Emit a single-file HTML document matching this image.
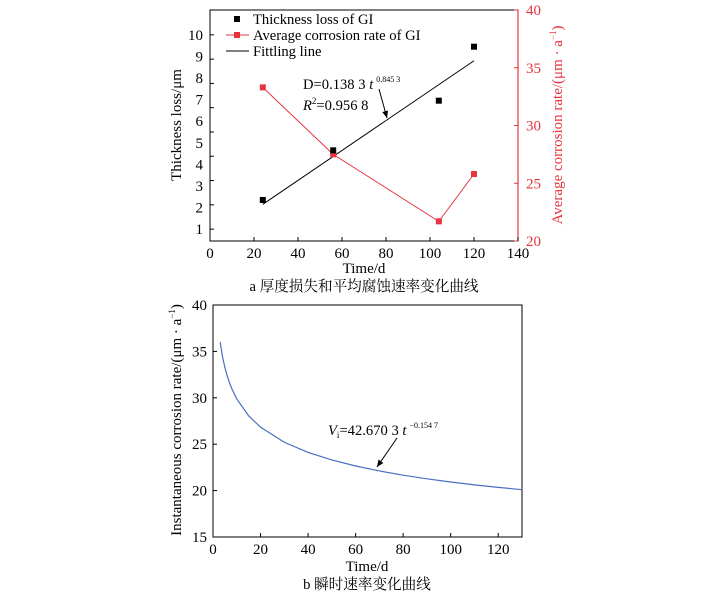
<!DOCTYPE html>
<html><head><meta charset="utf-8"><style>
body{margin:0;background:#fff}
svg text{font-family:"Liberation Serif","Noto Serif CJK SC",serif}
</style></head><body>
<svg id="s" width="723" height="592" xmlns="http://www.w3.org/2000/svg">
<defs><marker id="ah" markerWidth="8" markerHeight="8" refX="7" refY="4" orient="auto"><path d="M0,1 L7,4 L0,7 Z" fill="#000"/></marker></defs>
<g id="top"></g>
<g id="bot"></g>
</svg>
<script>
const tDays=[24,56,104,120];
const thickness=[2.35,4.65,6.95,9.45];
const avgRate=[33.3,27.5,21.7,25.8];
const fitT=[24,120];
const fitD=[2.15,8.8];
const xTicksA=[0,20,40,60,80,100,120,140];
const yTicksL=[1,2,3,4,5,6,7,8,9,10];
const yTickMarksL=[10,8.875,7.75,6.625,5.5,4.375,3.25,2.125,1];
const yTicksR=[20,25,30,35,40];
const instT=[3,4,5,6,7,8,10,15,20,30,40,50,60,70,80,90,100,110,120,130];
const instV=[36.0,34.43,33.27,32.34,31.58,30.93,29.88,28.06,26.84,25.21,24.11,23.30,22.65,22.12,21.66,21.27,20.93,20.62,20.35,20.10];
const xTicksB=[0,20,40,60,80,100,120];
const yTicksB=[15,20,25,30,35,40];

const NS="http://www.w3.org/2000/svg";
function mk(p,tag,at,txt){const e=document.createElementNS(NS,tag);for(const k in at)e.setAttribute(k,at[k]);if(txt!==undefined)e.textContent=txt;p.appendChild(e);return e;}
const RED="#e8343f";
const FS=15;
// Chart A
const A=document.getElementById('top');
const ax={l:210,r:518,t:10,b:241};
const xA=v=>ax.l+(v-0)/140*(ax.r-ax.l);
const yL=v=>ax.b-(v-0.45)/(11.15-0.45)*(ax.b-ax.t);
const yR=v=>ax.b-(v-20)/20*(ax.b-ax.t);
let e=mk(A,'rect',{x:ax.l,y:ax.t,width:ax.r-ax.l,height:ax.b-ax.t,fill:'none',stroke:'#000','stroke-width':1});

mk(A,'line',{x1:ax.r,y1:ax.t,x2:ax.r,y2:ax.b,stroke:RED,'stroke-width':1.2});
xTicksA.forEach(v=>{const x=xA(v);mk(A,'line',{x1:x,y1:ax.b,x2:x,y2:ax.b-4,stroke:'#000'});
 e=mk(A,'text',{x:x,y:ax.b+17,'text-anchor':'middle','font-size':FS},v);});
yTickMarksL.forEach(v=>{const y=yL(v);mk(A,'line',{x1:ax.l,y1:y,x2:ax.l+4,y2:y,stroke:'#000'});});
yTicksL.forEach(v=>{const y=yL(v);
 e=mk(A,'text',{x:ax.l-7,y:y+5,'text-anchor':'end','font-size':FS},v);});
yTicksR.forEach(v=>{const y=yR(v);mk(A,'line',{x1:ax.r,y1:y,x2:ax.r-4,y2:y,stroke:RED});
 e=mk(A,'text',{x:ax.r+8,y:y+5,'font-size':FS,fill:RED},v);});
e=mk(A,'line',{x1:xA(fitT[0]),y1:yL(fitD[0]),x2:xA(fitT[1]),y2:yL(fitD[1]),stroke:'#000','stroke-width':1});

e=mk(A,'polyline',{points:tDays.map((t,i)=>xA(t)+','+yR(avgRate[i])).join(' '),fill:'none',stroke:RED,'stroke-width':1});

tDays.forEach((t,i)=>{e=mk(A,'rect',{x:xA(t)-3,y:yR(avgRate[i])-3,width:6,height:6,fill:RED});
 });
tDays.forEach((t,i)=>{e=mk(A,'rect',{x:xA(t)-3,y:yL(thickness[i])-3,width:6,height:6,fill:'#000'});
 });
const lg=mk(A,'g',{});
mk(lg,'rect',{x:234,y:16,width:6,height:6,fill:'#000'});
mk(lg,'text',{x:253,y:24,'font-size':14.6},'Thickness loss of GI');
mk(lg,'line',{x1:226,y1:35,x2:249,y2:35,stroke:RED});
mk(lg,'rect',{x:234,y:32,width:6,height:6,fill:RED});
mk(lg,'text',{x:253,y:40,'font-size':14.6},'Average corrosion rate of GI');
mk(lg,'line',{x1:226,y1:51,x2:249,y2:51,stroke:'#000'});
mk(lg,'text',{x:253,y:56,'font-size':14.6},'Fittling line');
e=mk(A,'text',{x:303,y:89,'font-size':14.6},'D=0.138 3 ');
mk(e,'tspan',{'font-style':'italic'},'t');mk(e,'tspan',{'font-size':8,dy:-7,dx:3},'0.845 3');

e=mk(A,'text',{x:303,y:110,'font-size':14.6});
mk(e,'tspan',{'font-style':'italic'},'R');mk(e,'tspan',{'font-size':9,dy:-6},'2');mk(e,'tspan',{dy:6},'=0.956 8');

mk(A,'line',{x1:379,y1:89,x2:387,y2:118,stroke:'#000','marker-end':'url(#ah)'});
e=mk(A,'text',{x:364,y:273,'text-anchor':'middle','font-size':FS},'Time/d');
e=mk(A,'text',{x:364,y:291,'text-anchor':'middle','font-size':14.6},'a  厚度损失和平均腐蚀速率变化曲线');
e=mk(A,'text',{x:0,y:0,'text-anchor':'middle','font-size':FS,transform:'translate(181,125) rotate(-90)'},'Thickness loss/μm');
e=mk(A,'text',{x:0,y:0,'text-anchor':'middle','font-size':FS,fill:RED,transform:'translate(562,125) rotate(-90)'});
mk(e,'tspan',{},'Average corrosion rate/(μm · a');mk(e,'tspan',{'font-size':9,dy:-6},'−1');mk(e,'tspan',{dy:6},')');


// Chart B
const B=document.getElementById('bot');
const bx={l:213,r:522,t:305,b:537};
const xB=v=>bx.l+v/130*(bx.r-bx.l);
const yB=v=>bx.b-(v-15)/25*(bx.b-bx.t);
e=mk(B,'rect',{x:bx.l,y:bx.t,width:bx.r-bx.l,height:bx.b-bx.t,fill:'none',stroke:'#000'});

xTicksB.forEach(v=>{const x=xB(v);mk(B,'line',{x1:x,y1:bx.b,x2:x,y2:bx.b-4,stroke:'#000'});
 e=mk(B,'text',{x:x,y:bx.b+17,'text-anchor':'middle','font-size':FS},v);});
yTicksB.forEach(v=>{const y=yB(v);mk(B,'line',{x1:bx.l,y1:y,x2:bx.l+4,y2:y,stroke:'#000'});
 e=mk(B,'text',{x:bx.l-6,y:y+5,'text-anchor':'end','font-size':FS},v);});
e=mk(B,'polyline',{points:instT.map((t,i)=>xB(t)+','+yB(instV[i])).join(' '),fill:'none',stroke:'#4a6fc0','stroke-width':1.2});

e=mk(B,'text',{x:328,y:435,'font-size':14.6});
mk(e,'tspan',{'font-style':'italic'},'V');mk(e,'tspan',{'font-size':9,dy:3},'i');mk(e,'tspan',{dy:-3},'=42.670 3 ');
mk(e,'tspan',{'font-style':'italic'},'t');mk(e,'tspan',{'font-size':8,dy:-7,dx:3},'−0.154 7');

mk(B,'line',{x1:397,y1:438,x2:377,y2:467,stroke:'#000','marker-end':'url(#ah)'});
e=mk(B,'text',{x:367,y:571,'text-anchor':'middle','font-size':FS},'Time/d');
e=mk(B,'text',{x:367,y:589,'text-anchor':'middle','font-size':14.6},'b  瞬时速率变化曲线');
e=mk(B,'text',{x:0,y:0,'text-anchor':'middle','font-size':FS,transform:'translate(181,420) rotate(-90)'});
mk(e,'tspan',{},'Instantaneous corrosion rate/(μm · a');mk(e,'tspan',{'font-size':9,dy:-6},'−1');mk(e,'tspan',{dy:6},')');

</script>
</body></html>
